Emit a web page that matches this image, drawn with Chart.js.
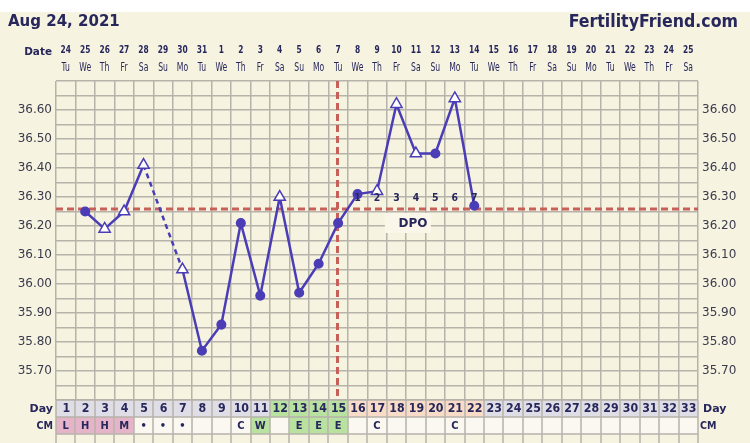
<!DOCTYPE html>
<html>
<head>
<meta charset="utf-8">
<script src="https://cdn.jsdelivr.net/npm/chart.js@4"></script>
<style>
  html, body { margin: 0; padding: 0; background: #f7f3e1; }
  canvas { display: block; }
</style>
</head>
<body>
<canvas id="chart" width="750" height="443"></canvas>
<script>
// chart data
const chartTitle = "Aug 24, 2021";
const siteName = "FertilityFriend.com";
const cycleDays = [1, 2, 3, 4, 5, 6, 7, 8, 9, 10, 11, 12, 13, 14, 15, 16, 17, 18, 19, 20, 21, 22, 23, 24, 25, 26, 27, 28, 29, 30, 31, 32, 33];
const dateLabels = ["24", "25", "26", "27", "28", "29", "30", "31", "1", "2", "3", "4", "5", "6", "7", "8", "9", "10", "11", "12", "13", "14", "15", "16", "17", "18", "19", "20", "21", "22", "23", "24", "25"];
const weekdayLabels = ["Tu", "We", "Th", "Fr", "Sa", "Su", "Mo", "Tu", "We", "Th", "Fr", "Sa", "Su", "Mo", "Tu", "We", "Th", "Fr", "Sa", "Su", "Mo", "Tu", "We", "Th", "Fr", "Sa", "Su", "Mo", "Tu", "We", "Th", "Fr", "Sa"];
// temperature per cycle day (null = not recorded)
const temps = [null, 36.25, 36.19, 36.25, 36.41, null, 36.05, 35.77, 35.86, 36.21, 35.96, 36.30, 35.97, 36.07, 36.21, 36.31, 36.32, 36.62, 36.45, 36.45, 36.64, 36.27];
const markers = ["", "circle", "triangle", "triangle", "triangle", "", "triangle", "circle", "circle", "circle", "circle", "triangle", "circle", "circle", "circle", "circle", "triangle", "triangle", "triangle", "circle", "triangle", "circle"];
const tempTicks = ["35.70", "35.80", "35.90", "36.00", "36.10", "36.20", "36.30", "36.40", "36.50", "36.60"];
const coverline = 36.26;
const ovulationDay = 15;
const dpoDays = [16, 17, 18, 19, 20, 21, 22];
const dpoLabels = ["1", "2", "3", "4", "5", "6", "7"];
const fertileDays = [12, 13, 14, 15];
const lutealDays = [16, 17, 18, 19, 20, 21, 22];
const cmCodes = ["L", "H", "H", "M", "•", "•", "•", "", "", "C", "W", "", "E", "E", "E", "", "C", "", "", "", "C", ""];

const BG = "#f7f3e1";
const GRID = "#b6b3aa";
const INK = "#27275c";
const LINE = "#4a3db6";
const RED = "#c8605a";
const FONT = "'DejaVu Sans', Verdana, sans-serif";

const points = [];
const pointStyles = [];
const pointFills = [];
const pointSizes = [];
temps.forEach(function (t, i) {
    if (t === null) return;
    points.push({ x: cycleDays[i], y: t });
    pointStyles.push(markers[i]);
    pointFills.push(markers[i] === "triangle" ? "#ffffff" : LINE);
    pointSizes.push(markers[i] === "triangle" ? 6.5 : 4.3);
});

function tempScaleTicks(scale) {
    const ticks = [];
    for (let i = 0; i <= 22; i++) {
        ticks.push({ value: +(35.6 + i * 0.05).toFixed(2) });
    }
    scale.ticks = ticks;
}

function tempLabel(value) {
    const s = value.toFixed(2);
    return tempTicks.includes(s) ? s : "";
}

function squeezeText(ctx, text, x, y, factor) {
    const w = ctx.measureText(text).width;
    ctx.fillText(text, x, y, w * factor);
}

function cmColor(code) {
    if (code === "L" || code === "H" || code === "M") return "#e6b4c9";
    if (code === "W" || code === "E") return "#b9e19f";
    return "#faf8f1";
}

const decorPlugin = {
    id: "decor",
    beforeDraw: function (chart) {
        const ctx = chart.ctx;
        ctx.save();
        ctx.fillStyle = "#ffffff";
        ctx.fillRect(0, 0, chart.width, 12);
        ctx.fillStyle = BG;
        ctx.fillRect(0, 12, chart.width, chart.height - 12);
        ctx.restore();
    },
    beforeDatasetsDraw: function (chart) {
        const ctx = chart.ctx;
        const area = chart.chartArea;
        const x = chart.scales.x;
        const y = chart.scales.y;
        ctx.save();
        ctx.strokeStyle = RED;
        ctx.lineWidth = 3;
        ctx.setLineDash([7, 4]);
        const cy = Math.round(y.getPixelForValue(coverline));
        ctx.beginPath();
        ctx.moveTo(area.left, cy);
        ctx.lineTo(area.right, cy);
        ctx.stroke();
        const ox = Math.round(x.getPixelForValue(ovulationDay)) - 0.5;
        ctx.beginPath();
        ctx.moveTo(ox, area.top);
        ctx.lineTo(ox, area.bottom - 2);
        ctx.stroke();
        ctx.setLineDash([]);

        // DPO box
        const bx = x.getPixelForValue(19);
        ctx.fillStyle = "#faf7ea";
        ctx.fillRect(bx - 31, cy + 4, 46, 20);
        ctx.fillStyle = INK;
        ctx.font = "bold 12px " + FONT;
        ctx.textAlign = "center";
        ctx.textBaseline = "middle";
        ctx.fillText("DPO", bx - 3, cy + 15);
        ctx.restore();
    },
    afterDatasetsDraw: function (chart) {
        const ctx = chart.ctx;
        const x = chart.scales.x;
        const y = chart.scales.y;
        ctx.save();
        ctx.fillStyle = INK;
        ctx.font = "bold 11px " + FONT;
        ctx.textAlign = "center";
        ctx.textBaseline = "middle";
        const ly = y.getPixelForValue(coverline) - 10;
        dpoDays.forEach(function (d, i) {
            squeezeText(ctx, dpoLabels[i], x.getPixelForValue(d), ly, 0.85);
        });
        ctx.restore();
    },
    afterDraw: function (chart) {
        const ctx = chart.ctx;
        const area = chart.chartArea;
        const x = chart.scales.x;
        ctx.save();

        // header
        ctx.fillStyle = INK;
        ctx.textBaseline = "alphabetic";
        ctx.font = "bold 15px " + FONT;
        ctx.textAlign = "left";
        ctx.fillText(chartTitle, 8, 26);
        ctx.font = "bold 17px " + FONT;
        ctx.textAlign = "right";
        squeezeText(ctx, siteName, 738, 27, 0.93);

        ctx.font = "bold 11px " + FONT;
        ctx.textAlign = "right";
        squeezeText(ctx, "Date", 52, 55, 0.95);
        ctx.textAlign = "center";
        cycleDays.forEach(function (d, i) {
            const px = x.getPixelForValue(d);
            ctx.font = "bold 11px " + FONT;
            squeezeText(ctx, dateLabels[i], px, 53, 0.68);
            ctx.font = "12px " + FONT;
            squeezeText(ctx, weekdayLabels[i], px, 71, 0.64);
        });

        // Day / CM rows
        const rowTop = area.bottom;
        const rowMid = rowTop + 17;
        const rowBot = rowMid + 17;
        cycleDays.forEach(function (d, i) {
            const x0 = x.getPixelForValue(d - 0.5);
            const x1 = x.getPixelForValue(d + 0.5);
            let dayFill = "#dfdee6";
            if (fertileDays.includes(d)) dayFill = "#b9e19f";
            if (lutealDays.includes(d)) dayFill = "#f8dcc8";
            ctx.fillStyle = dayFill;
            ctx.fillRect(x0, rowTop, x1 - x0, 17);
            ctx.fillStyle = cmColor(cmCodes[i] || "");
            ctx.fillRect(x0, rowMid, x1 - x0, 17);
        });

        ctx.strokeStyle = GRID;
        ctx.lineWidth = 1.5;
        ctx.beginPath();
        cycleDays.concat([34]).forEach(function (d) {
            const px = Math.round(x.getPixelForValue(d - 0.5));
            ctx.moveTo(px, rowTop);
            ctx.lineTo(px, chart.height);
        });
        [rowTop, rowMid, rowBot].forEach(function (py) {
            ctx.moveTo(area.left, py);
            ctx.lineTo(area.right, py);
        });
        ctx.stroke();

        ctx.fillStyle = INK;
        ctx.textBaseline = "middle";
        ctx.textAlign = "center";
        cycleDays.forEach(function (d, i) {
            const px = x.getPixelForValue(d);
            ctx.font = "bold 12px " + FONT;
            squeezeText(ctx, String(d), px + 0.5, rowTop + 9, 0.92);
            if (cmCodes[i]) {
                ctx.font = "bold 11px " + FONT;
                squeezeText(ctx, cmCodes[i], px, rowMid + 9, 0.9);
            }
        });
        ctx.font = "bold 11px " + FONT;
        ctx.textAlign = "right";
        ctx.fillText("Day", 53, rowTop + 9);
        ctx.font = "bold 10px " + FONT;
        squeezeText(ctx, "CM", 53, rowMid + 9, 0.95);
        ctx.textAlign = "left";
        ctx.font = "bold 11px " + FONT;
        ctx.fillText("Day", 703, rowTop + 9);
        ctx.font = "bold 10px " + FONT;
        squeezeText(ctx, "CM", 700, rowMid + 9, 0.95);
        ctx.restore();
    }
};

new Chart(document.getElementById("chart"), {
    type: "line",
    data: {
        datasets: [{
            data: points,
            borderColor: LINE,
            borderWidth: 2.5,
            pointStyle: pointStyles,
            pointBackgroundColor: pointFills,
            pointBorderColor: LINE,
            pointBorderWidth: 1.5,
            pointRadius: pointSizes,
            tension: 0,
            segment: {
                borderDash: function (ctx) {
                    return ctx.p1.parsed.x - ctx.p0.parsed.x > 1 ? [5, 4] : undefined;
                }
            }
        }]
    },
    options: {
        responsive: false,
        devicePixelRatio: 1,
        animation: false,
        layout: { padding: { top: 81, left: 0, right: 0, bottom: 0 } },
        plugins: {
            legend: { display: false },
            tooltip: { enabled: false }
        },
        scales: {
            x: {
                type: "linear",
                min: 0.5,
                max: 33.5,
                afterBuildTicks: function (scale) {
                    scale.ticks = cycleDays.concat([34]).map(function (d) { return { value: d - 0.5 }; });
                },
                afterFit: function (scale) { scale.height = 43; },
                ticks: { display: false },
                grid: { color: GRID, lineWidth: 1.5, drawTicks: false },
                border: { display: false }
            },
            y: {
                position: "left",
                min: 35.6,
                max: 36.7,
                afterBuildTicks: tempScaleTicks,
                afterFit: function (scale) { scale.width = 56; },
                ticks: {
                    callback: tempLabel,
                    padding: 4,
                    color: "#3a3a4c",
                    font: { family: FONT, size: 12 },
                    autoSkip: false
                },
                grid: { color: GRID, lineWidth: 1.5, drawTicks: false },
                border: { display: false }
            },
            y2: {
                position: "right",
                min: 35.6,
                max: 36.7,
                afterBuildTicks: tempScaleTicks,
                afterFit: function (scale) { scale.width = 52; },
                ticks: {
                    callback: tempLabel,
                    padding: 4,
                    color: "#3a3a4c",
                    font: { family: FONT, size: 12 },
                    autoSkip: false
                },
                grid: { display: false, drawTicks: false },
                border: { display: false }
            }
        }
    },
    plugins: [decorPlugin]
});
</script>
</body>
</html>
